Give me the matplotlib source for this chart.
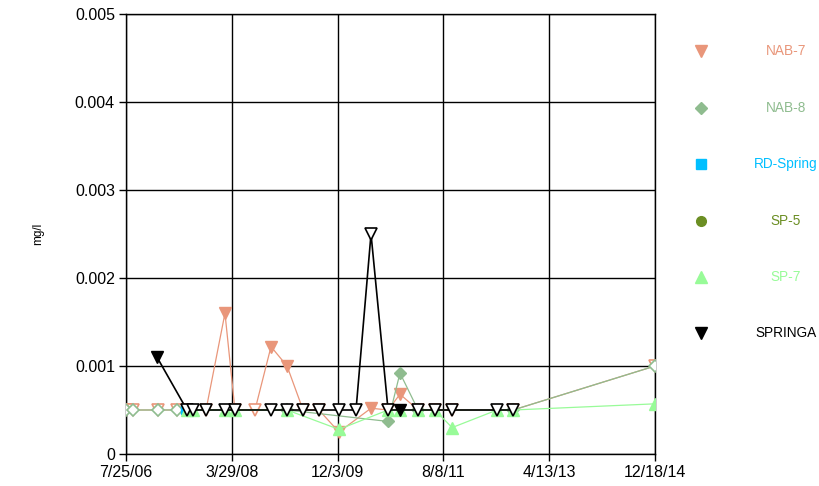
import matplotlib
matplotlib.use("Agg")
import matplotlib.pyplot as plt
import matplotlib.dates as mdates
from matplotlib.lines import Line2D
import numpy as np
import pandas as pd

plt.rcParams['font.family'] = ['Liberation Sans', 'DejaVu Sans']

# ---------------- data ----------------
series_names = ["NAB-7", "NAB-8", "RD-Spring", "SP-5", "SP-7", "SPRINGA"]
series_colors = ["#E9967A", "#8FBC8F", "#00BFFF", "#6B8E23", "#98FB98", "#000000"]
series_markers = ["v", "D", "s", "o", "^", "v"]

nab7_dates = ["2006-07-25", "2006-09-03", "2007-01-27", "2007-05-17", "2007-07-14",
              "2007-11-01", "2008-02-19", "2008-04-17", "2008-08-11", "2008-11-12",
              "2009-02-13", "2009-05-17", "2009-08-17", "2009-12-11", "2010-06-15",
              "2010-09-22", "2010-11-30", "2011-03-15", "2011-06-21", "2011-09-28",
              "2012-09-16", "2014-12-18"]
nab7_vals = [0.0005, 0.0005, 0.0005, 0.0005, 0.0005,
             0.0005, 0.0016, 0.0005, 0.0005, 0.00122,
             0.001, 0.0005, 0.0005, 0.00025, 0.00052,
             0.0005, 0.00068, 0.0005, 0.0005, 0.0005,
             0.0005, 0.001]
nab7_detect = [0, 0, 0, 0, 0,
               0, 1, 0, 0, 1,
               1, 0, 0, 1, 1,
               0, 1, 0, 0, 0,
               0, 0]

nab8_dates = ["2006-07-25", "2006-09-03", "2007-01-27", "2007-05-17", "2009-02-13",
              "2010-09-22", "2010-11-30", "2011-03-15", "2012-09-16", "2014-12-18"]
nab8_vals = [0.0005, 0.0005, 0.0005, 0.0005, 0.0005,
             0.00037, 0.00092, 0.0005, 0.0005, 0.001]
nab8_detect = [0, 0, 0, 0, 0, 1, 1, 0, 0, 0]

rd_dates = ["2007-07-04"]
rd_vals = [0.0005]
rd_detect = [1]

sp5_dates = []
sp5_vals = []
sp5_detect = []

sp7_dates = ["2007-07-14", "2007-08-18", "2008-02-19", "2008-04-17", "2009-02-13",
             "2009-12-11", "2010-09-22", "2010-11-30", "2011-03-15", "2011-06-21",
             "2011-09-28", "2012-06-15", "2012-09-16", "2014-12-18"]
sp7_vals = [0.0005, 0.0005, 0.0005, 0.0005, 0.0005,
            0.00028, 0.0005, 0.0005, 0.0005, 0.0005,
            0.0003, 0.0005, 0.0005, 0.00057]
sp7_detect = [1] * 14

springa_dates = ["2007-01-21", "2007-07-14", "2007-08-18", "2007-11-01", "2008-02-19",
                 "2008-04-17", "2008-11-12", "2009-02-13", "2009-05-17", "2009-08-17",
                 "2009-12-11", "2010-03-20", "2010-06-15", "2010-09-22", "2010-11-30",
                 "2011-03-15", "2011-06-21", "2011-09-28", "2012-06-15", "2012-09-16"]
springa_vals = [0.0011, 0.0005, 0.0005, 0.0005, 0.0005,
                0.0005, 0.0005, 0.0005, 0.0005, 0.0005,
                0.0005, 0.0005, 0.0025, 0.0005, 0.0005,
                0.0005, 0.0005, 0.0005, 0.0005, 0.0005]
springa_detect = [1, 0, 0, 0, 0,
                  0, 0, 0, 0, 0,
                  0, 0, 0, 0, 1,
                  0, 0, 0, 0, 0]

x_tick_labels = ["7/25/06", "3/29/08", "12/3/09", "8/8/11", "4/13/13", "12/18/14"]
x_tick_dates = ["2006-07-25", "2008-03-29", "2009-12-03", "2011-08-08", "2013-04-13", "2014-12-18"]
y_ticks = [0, 0.001, 0.002, 0.003, 0.004, 0.005]
y_tick_labels = ["0", "0.001", "0.002", "0.003", "0.004", "0.005"]
y_label = "mg/l"

all_dates = [nab7_dates, nab8_dates, rd_dates, sp5_dates, sp7_dates, springa_dates]
all_vals = [nab7_vals, nab8_vals, rd_vals, sp5_vals, sp7_vals, springa_vals]
all_detect = [nab7_detect, nab8_detect, rd_detect, sp5_detect, sp7_detect, springa_detect]

# ---------------- figure ----------------
W, H = 819, 486
fig = plt.figure(figsize=(W / 100, H / 100), dpi=100)
ax = fig.add_axes([126 / W, 1 - 454 / H, (655 - 126) / W, (454 - 14) / H])

msize = {"v": 8.5, "D": 6, "s": 6, "o": 7, "^": 8.5}
for i, (name, col, mk) in enumerate(zip(series_names, series_colors, series_markers)):
    if len(all_dates[i]) == 0:
        continue
    d = pd.to_datetime(all_dates[i])
    v = np.array(all_vals[i])
    det = np.array(all_detect[i], dtype=bool)
    lw = 1.2 if name == "SPRINGA" else 0.9
    z = 3 + i
    ax.plot(d, v, color=col, lw=lw, zorder=z)
    ax.plot(d[det], v[det], ls="none", marker=mk, ms=msize[mk], mfc=col, mec=col,
            mew=1.0, zorder=z + 0.5)
    ax.plot(d[~det], v[~det], ls="none", marker=mk, ms=msize[mk], mfc="white", mec=col,
            mew=1.2, zorder=z + 0.5)

xt = pd.to_datetime(x_tick_dates)
ax.set_xlim(mdates.date2num(xt[0]), mdates.date2num(xt[-1]))
ax.set_xticks(mdates.date2num(xt))
ax.set_xticklabels(x_tick_labels)
ax.set_ylim(0, 0.005)
ax.set_yticks(y_ticks)
ax.set_yticklabels(y_tick_labels)
ax.grid(True, color="black", lw=1.0, zorder=1)
ax.set_axisbelow(True)
for s in ax.spines.values():
    s.set_color("black")
    s.set_linewidth(1.0)
ax.tick_params(axis="both", direction="out", length=5, width=1.0, labelsize=11.5,
               colors="black", pad=3)
ax.set_ylabel(y_label, fontsize=8.5, labelpad=22)

# legend (manual layout, Excel style, centered text)
leg_y = [51, 108, 164, 221, 277, 333]
leg_ms = {"v": 8.5, "D": 6, "s": 7, "o": 7, "^": 8.5}
for i, (name, col, mk) in enumerate(zip(series_names, series_colors, series_markers)):
    yf = 1 - leg_y[i] / H
    fig.add_artist(Line2D([701 / W], [yf], marker=mk, ms=leg_ms[mk], mfc=col, mec=col,
                          ls="none", transform=fig.transFigure))
    fig.text(786 / W, yf, name, color=col, fontsize=9.8, ha="center", va="center")

fig.savefig("out.png", dpi=100)
